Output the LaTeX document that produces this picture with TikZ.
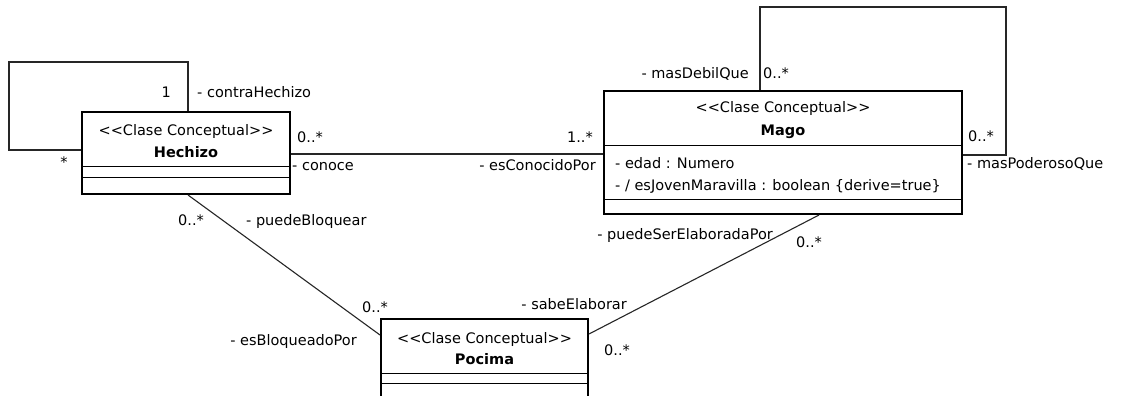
\documentclass[tikz,border=0pt]{standalone}
\usepackage{fontspec}
\setmainfont{DejaVu Sans}
\usetikzlibrary{calc}
\newcommand\stereo{<\kern0pt<Clase Conceptual>\kern0pt>}
\tikzset{
  classbox/.style={draw, line width=2pt, inner sep=0pt, anchor=north west},
  divider/.style={line width=1pt},
  assoc/.style={line width=1.1pt, draw=black!85},
  lbl/.style={inner sep=0pt, font=\fontsize{14.5}{17}\selectfont},
  bname/.style={inner sep=0pt, font=\fontsize{14.5}{17}\selectfont\bfseries},
}
\begin{document}
\begin{tikzpicture}[x=1pt,y=-1pt]
\clip (0,0) rectangle (1130,396);
\fill[white] (0,0) rectangle (1130,396);

% class boxes
\node[classbox, minimum width=208pt, minimum height=82pt] (hechizo) at (81,111) {};
\node[classbox, minimum width=358pt, minimum height=123pt] (mago) at (603,90) {};
\node[classbox, minimum width=207pt, minimum height=110pt] (pocima) at (380,318) {};

% dividers
\draw[divider] ($(hechizo.north west)+(0,55)$) -- ($(hechizo.north east)+(0,55)$);
\draw[divider] ($(hechizo.north west)+(0,66)$) -- ($(hechizo.north east)+(0,66)$);
\draw[divider] ($(mago.north west)+(0,55)$) -- ($(mago.north east)+(0,55)$);
\draw[divider] ($(mago.north west)+(0,109)$) -- ($(mago.north east)+(0,109)$);
\draw[divider] ($(pocima.north west)+(0,55)$) -- ($(pocima.north east)+(0,55)$);
\draw[divider] ($(pocima.north west)+(0,65)$) -- ($(pocima.north east)+(0,65)$);

% class texts
\node[lbl, anchor=base] (hst) at ($(hechizo.north)+(0,24)$) {\stereo};
\node[bname, anchor=base] (hnm) at ($(hechizo.north)+(0,46)$) {Hechizo};
\node[lbl, anchor=base] (mst) at ($(mago.north)+(0,23)$) {\stereo};
\node[bname, anchor=base] (mnm) at ($(mago.north)+(0,45)$) {Mago};
\node[lbl, anchor=base west] (ma1) at (615,168) {- edad : Numero};
\node[lbl, anchor=base west] (ma2) at (615,190) {- / esJovenMaravilla : boolean \{derive=true\}};
\node[lbl, anchor=base] (pst) at ($(pocima.north)+(0,25)$) {\stereo};
\node[bname, anchor=base] (pnm) at ($(pocima.north)+(0,46)$) {Pocima};

% connector end points
\coordinate (hloopA) at ($(hechizo.north)+(2,0)$);
\coordinate (hloopB) at ($(hechizo.west)+(0,-3)$);
\coordinate (mloopA) at ($(mago.north)+(-23,0)$);
\coordinate (mloopB) at ($(mago.east)+(0,2.5)$);
\coordinate (hbot) at ($(hechizo.south)+(2,0)$);
\coordinate (pwest) at ($(pocima.north west)+(0,17)$);
\coordinate (peast) at ($(pocima.north east)+(0,16)$);
\coordinate (mbot) at ($(mago.south)+(36,0)$);

% associations
\draw[assoc] (hloopA) |- (9,62) |- (hloopB);
\draw[assoc] (mloopA) |- (1006,7) |- (mloopB);
\draw[assoc] ($(hechizo.east)+(0,1)$) -- ($(hechizo.east -| mago.west)+(0,1)$);
\draw[assoc] (hbot) -- (pwest);
\draw[assoc] (peast) -- (mbot);

% role / multiplicity labels
\node[lbl, anchor=base east] (m1) at (171,98) {1};
\node[lbl, anchor=base west] (r1) at (197,98) {- contraHechizo};
\node[lbl, anchor=base] (m2) at (64,167) {*};
\node[lbl, anchor=base west] (m3) at (297,142) {0..*};
\node[lbl, anchor=base west] (r3) at (292,170) {- conoce};
\node[lbl, anchor=base east] (m4) at (593,142) {1..*};
\node[lbl, anchor=base east] (r4) at (596,170) {- esConocidoPor};
\node[lbl, anchor=base east] (r5) at (749,78) {- masDebilQue};
\node[lbl, anchor=base west] (m5) at (763,78) {0..*};
\node[lbl, anchor=base west] (m6) at (968,141) {0..*};
\node[lbl, anchor=base west] (r6) at (967,168) {- masPoderosoQue};
\node[lbl, anchor=base west] (m7) at (178,225) {0..*};
\node[lbl, anchor=base west] (r7) at (246,225) {- puedeBloquear};
\node[lbl, anchor=base east] (r8) at (773,239) {- puedeSerElaboradaPor};
\node[lbl, anchor=base west] (m8) at (796,247) {0..*};
\node[lbl, anchor=base west] (m9) at (362,312) {0..*};
\node[lbl, anchor=base east] (r9) at (627,309) {- sabeElaborar};
\node[lbl, anchor=base east] (r10) at (357,345) {- esBloqueadoPor};
\node[lbl, anchor=base west] (m10) at (604,355) {0..*};
\end{tikzpicture}
\end{document}
